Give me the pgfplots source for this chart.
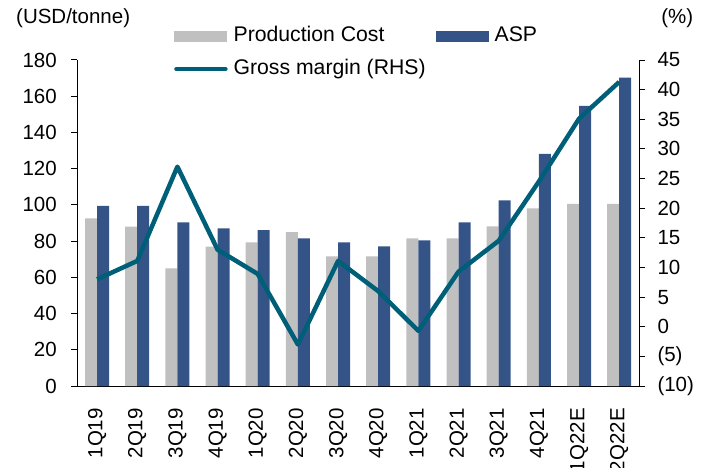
\documentclass[border=0pt]{standalone}
\usepackage{pgfplots}
\pgfplotsset{compat=1.18}
\usepackage{fontspec}
\setmainfont{Liberation Sans}
\definecolor{pcgray}{HTML}{C0C0C0}
\definecolor{aspblue}{HTML}{345488}
\definecolor{gmteal}{HTML}{005F78}
\begin{document}
\fontsize{20.5bp}{24bp}\selectfont
\begin{tikzpicture}[font=\fontsize{20.5bp}{24bp}\selectfont]
\path[use as bounding box] (-77bp,-82bp) rectangle (631bp,386bp);
\begin{axis}[
  scale only axis, width=562.3bp, height=326bp,
  xmin=-0.5, xmax=13.5, ymin=0, ymax=180,
  clip=false,
  axis x line*=bottom, axis y line*=left,
  axis line style={line width=1pt},
  tick align=outside,
  major tick length=6bp,
  tick style={black, line width=1pt},
  xtick={0,...,13},
  xticklabels={1Q19,2Q19,3Q19,4Q19,1Q20,2Q20,3Q20,4Q20,1Q21,2Q21,3Q21,4Q21,1Q22E,2Q22E},
  x tick style={draw=none},
  extra x ticks={-0.5,0.5,...,13.5},
  extra x tick labels={},
  extra x tick style={tick style={black, line width=1pt}},
  xticklabel style={rotate=90, anchor=east, inner sep=0pt, xshift=-16bp},
  ytick={0,20,...,180},
  yticklabel style={inner sep=0pt, xshift=-14bp},
  /pgf/number format/assume math mode=true,
  legend columns=2,
  legend cell align=left,
  legend style={draw=none, fill=none, at={(0.1725,1.104)}, anchor=north west, inner sep=0pt,
    font=\fontsize{21.2bp}{24bp}\selectfont,
    /tikz/every even column/.append style={column sep=10bp},
    row sep=13.5bp,
    nodes={inner sep=0pt, text height=15.5bp, text depth=4bp}},
]
\addplot[ybar, bar width=12bp, bar shift=-6bp, fill=pcgray, draw=none,
  legend image code/.code={\fill[pcgray] (0bp,-5.5bp) rectangle (53bp,5.5bp); \path (59bp,0bp);}]
  coordinates {(0,92.6) (1,88) (2,65) (3,77) (4,79.3) (5,85) (6,71.6) (7,71.6) (8,81.5) (9,81.5) (10,88.2) (11,98.1) (12,100.5) (13,100.5)};
\addlegendentry{Production Cost}
\addplot[ybar, bar width=12bp, bar shift=6bp, fill=aspblue, draw=none,
  legend image code/.code={\fill[aspblue] (0bp,-5.5bp) rectangle (53bp,5.5bp); \path (59bp,0bp);}]
  coordinates {(0,99.4) (1,99.4) (2,90.4) (3,87) (4,86) (5,81.5) (6,79.3) (7,77.1) (8,80.4) (9,90.4) (10,102.5) (11,128.1) (12,154.6) (13,170.2)};
\addlegendentry{ASP}
\addlegendimage{legend image code/.code={\draw[gmteal, line width=4.5bp, line cap=round] (2bp,0bp) -- (51bp,0bp); \path (0bp,0bp) (59bp,0bp);}}
\addlegendentry{Gross margin (RHS)}
\node[anchor=west, inner sep=0pt] at (rel axis cs:0,1) [xshift=-61bp, yshift=42bp] {(USD/tonne)};
\end{axis}
\begin{axis}[
  scale only axis, width=562.3bp, height=326bp,
  xmin=-0.5, xmax=13.5, ymin=-10, ymax=45,
  axis x line=none, axis y line*=right,
  axis line style={line width=1pt},
  tick align=outside,
  major tick length=6bp,
  tick style={black, line width=1pt},
  ytick={-10,-5,...,45},
  yticklabels={(10),(5),0,5,10,15,20,25,30,35,40,45},
  yticklabel style={inner sep=0pt, xshift=12bp, anchor=west},
  clip=false,
]
\addplot[gmteal, line width=4.5bp, line join=round, mark=none]
  coordinates {(0,8.0) (1,11.1) (2,27) (3,13.0) (4,8.9) (5,-3.0) (6,11.1) (7,6.0) (8,-0.7) (9,9.3) (10,14.5) (11,24.5) (12,35.1) (13,41.3)};
\node[inner sep=0pt] at (rel axis cs:1,1) [xshift=38bp, yshift=42bp] {(\%)};
\end{axis}
\end{tikzpicture}
\end{document}
